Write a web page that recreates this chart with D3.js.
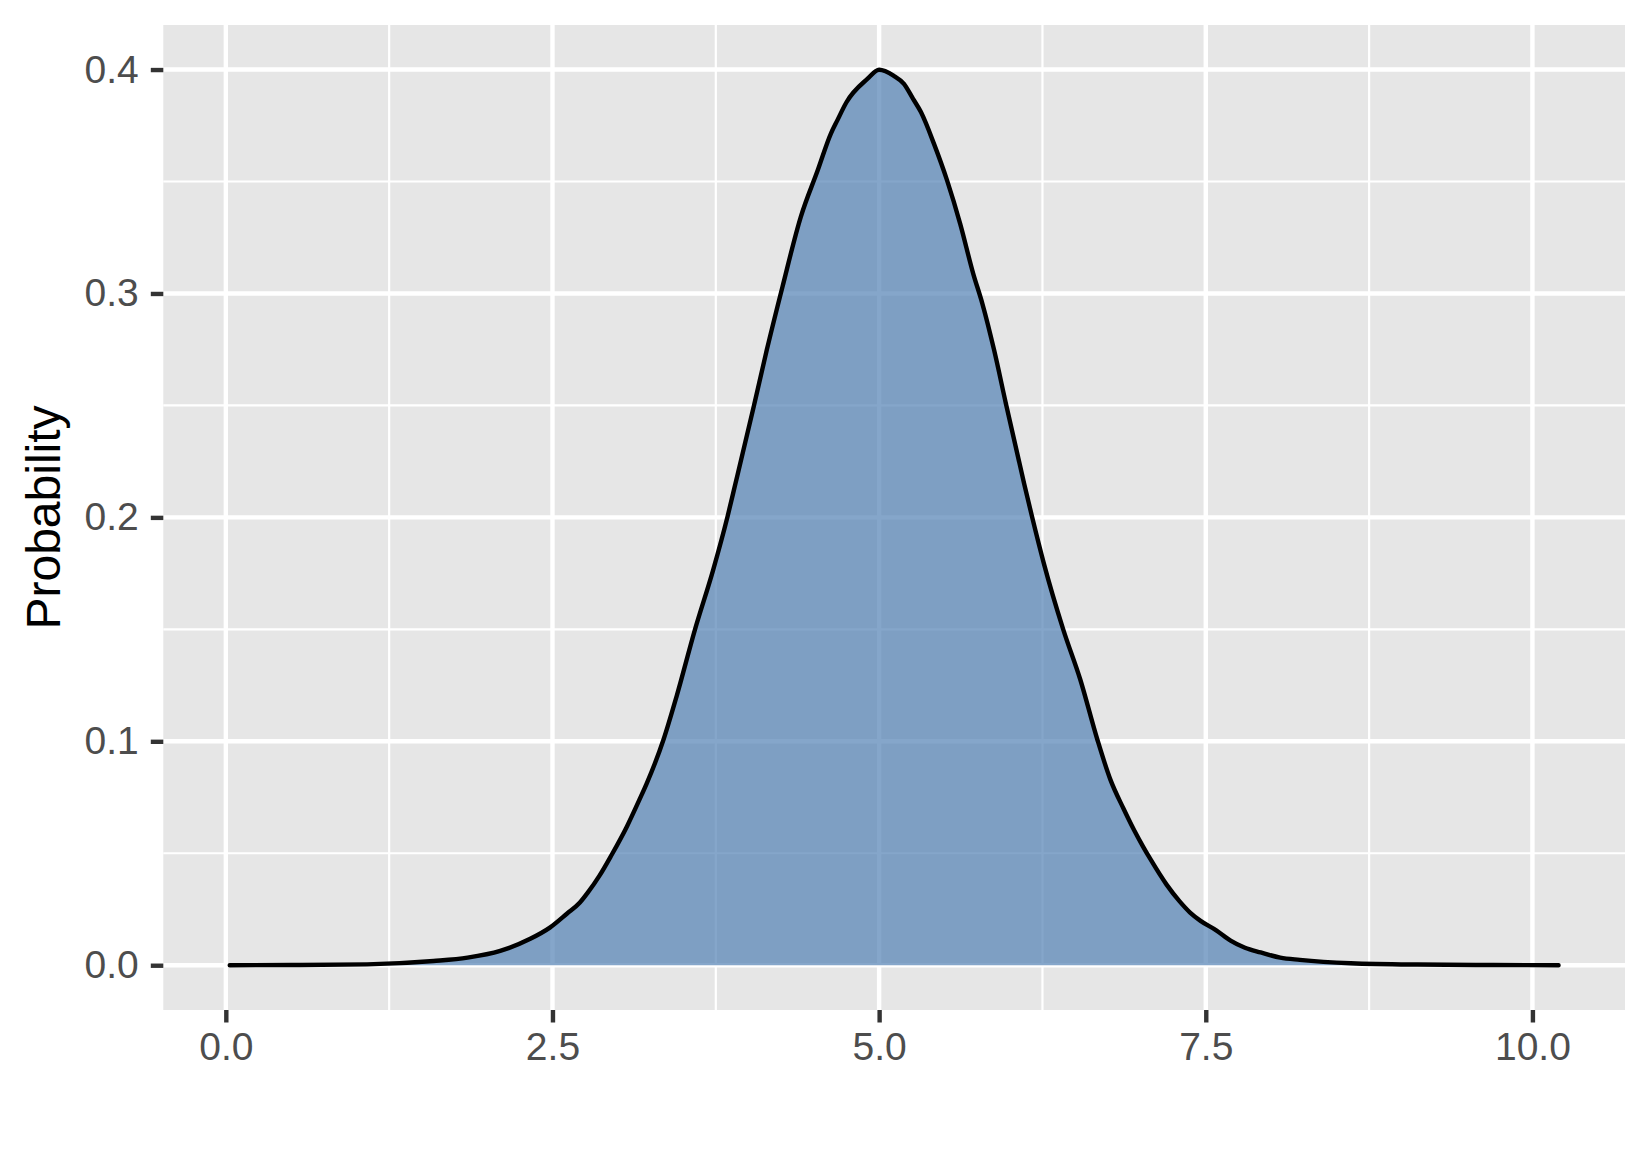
<!DOCTYPE html>
<html>
<head>
<meta charset="utf-8">
<script src="https://cdn.jsdelivr.net/npm/d3@7"></script>
<style>
  html, body { margin: 0; padding: 0; background: #ffffff; }
  svg { display: block; }
  text { font-family: "Liberation Sans", Arial, Helvetica, sans-serif; }
</style>
</head>
<body>
<svg id="chart" width="1650" height="1155"></svg>
<script>
// ---- data ----
const densityX = [0.03, 0.5, 1.08, 1.59, 1.85, 2.10, 2.33, 2.48, 2.61, 2.71, 2.77, 2.86, 2.95, 3.07, 3.17, 3.22, 3.35, 3.45, 3.59, 3.73, 3.84, 3.90, 4.04, 4.14, 4.26, 4.40, 4.53, 4.63, 4.68, 4.75, 4.91, 5.00, 5.11, 5.19, 5.26, 5.32, 5.42, 5.52, 5.62, 5.72, 5.79, 5.88, 5.97, 6.11, 6.17, 6.26, 6.41, 6.54, 6.67, 6.77, 6.87, 6.95, 7.02, 7.08, 7.20, 7.30, 7.38, 7.46, 7.58, 7.69, 7.80, 7.92, 8.07, 8.22, 8.61, 9.12, 9.70, 10.20];
const densityY = [0.0000, 0.0001, 0.0004, 0.0019, 0.0034, 0.0064, 0.0118, 0.0168, 0.0230, 0.0280, 0.0324, 0.0400, 0.0490, 0.0620, 0.0745, 0.0810, 0.1008, 0.1201, 0.1498, 0.1766, 0.2004, 0.2150, 0.2494, 0.2747, 0.3029, 0.3341, 0.3550, 0.3713, 0.3773, 0.3854, 0.3958, 0.3999, 0.3973, 0.3936, 0.3869, 0.3810, 0.3668, 0.3505, 0.3312, 0.3089, 0.2955, 0.2747, 0.2509, 0.2150, 0.2004, 0.1796, 0.1498, 0.1275, 0.1008, 0.0829, 0.0700, 0.0605, 0.0530, 0.0470, 0.0360, 0.0285, 0.0235, 0.0198, 0.0156, 0.0110, 0.0078, 0.0057, 0.0034, 0.0024, 0.0009, 0.0003, 0.0001, 0.0000];
const xTicks = [0, 2.5, 5, 7.5, 10];
const xTickLabels = ["0.0", "2.5", "5.0", "7.5", "10.0"];
const xMinor = [1.25, 3.75, 6.25, 8.75];
const yTicks = [0, 0.1, 0.2, 0.3, 0.4];
const yTickLabels = ["0.0", "0.1", "0.2", "0.3", "0.4"];
const yMinor = [0.05, 0.15, 0.25, 0.35];
const yTitle = "Probability";

// ---- layout ----
const W = 1650, H = 1155;
const panel = { left: 163.3, right: 1625, top: 25, bottom: 1010 };

const data = densityX.map((x, i) => ({ x: x, y: densityY[i] }));
const xr = d3.extent(densityX);
const xpad = (xr[1] - xr[0]) * 0.05;
const ymax = d3.max(densityY);
const ypad = ymax * 0.05;

const x = d3.scaleLinear().domain([xr[0] - xpad, xr[1] + xpad]).range([panel.left, panel.right]);
const y = d3.scaleLinear().domain([0 - ypad, ymax + ypad]).range([panel.bottom, panel.top]);

const svg = d3.select("#chart");

// panel background
svg.append("rect")
  .attr("x", panel.left).attr("y", panel.top)
  .attr("width", panel.right - panel.left).attr("height", panel.bottom - panel.top)
  .attr("fill", "#E6E6E6");

const grid = svg.append("g");
// minor grid
grid.selectAll(".xminor").data(xMinor).join("line")
  .attr("x1", d => x(d)).attr("x2", d => x(d))
  .attr("y1", panel.top).attr("y2", panel.bottom)
  .attr("stroke", "#ffffff").attr("stroke-width", 2.2);
grid.selectAll(".yminor").data(yMinor).join("line")
  .attr("y1", d => y(d)).attr("y2", d => y(d))
  .attr("x1", panel.left).attr("x2", panel.right)
  .attr("stroke", "#ffffff").attr("stroke-width", 2.2);
// major grid
grid.selectAll(".xmajor").data(xTicks).join("line")
  .attr("x1", d => x(d)).attr("x2", d => x(d))
  .attr("y1", panel.top).attr("y2", panel.bottom)
  .attr("stroke", "#ffffff").attr("stroke-width", 4.4);
grid.selectAll(".ymajor").data(yTicks).join("line")
  .attr("y1", d => y(d)).attr("y2", d => y(d))
  .attr("x1", panel.left).attr("x2", panel.right)
  .attr("stroke", "#ffffff").attr("stroke-width", 4.4);

// density area
const area = d3.area()
  .x(d => x(d.x)).y0(y(0)).y1(d => y(d.y))
  .curve(d3.curveMonotoneX);
svg.append("path").datum(data)
  .attr("d", area)
  .attr("fill", "#5180B4").attr("fill-opacity", 0.7);

const line = d3.line()
  .x(d => x(d.x)).y(d => y(d.y))
  .curve(d3.curveMonotoneX);
svg.append("path").datum(data)
  .attr("d", line)
  .attr("fill", "none").attr("stroke", "#000000")
  .attr("stroke-width", 4.4).attr("stroke-linejoin", "round").attr("stroke-linecap", "round");

// x axis
const xAxis = d3.axisBottom(x).tickValues(xTicks)
  .tickFormat((d, i) => xTickLabels[i]).tickSize(12.5).tickPadding(10);
const gx = svg.append("g").attr("transform", `translate(0,${panel.bottom})`).call(xAxis);
gx.select(".domain").remove();
gx.selectAll(".tick line").attr("stroke", "#333333").attr("stroke-width", 4.4);
gx.selectAll(".tick text").attr("fill", "#4D4D4D").attr("font-size", 39)
  .attr("font-family", "Liberation Sans, Arial, Helvetica, sans-serif");

// y axis
const yAxis = d3.axisLeft(y).tickValues(yTicks)
  .tickFormat((d, i) => yTickLabels[i]).tickSize(12.5).tickPadding(12);
const gy = svg.append("g").attr("transform", `translate(${panel.left},0)`).call(yAxis);
gy.select(".domain").remove();
gy.selectAll(".tick line").attr("stroke", "#333333").attr("stroke-width", 4.4);
gy.selectAll(".tick text").attr("fill", "#4D4D4D").attr("font-size", 39)
  .attr("font-family", "Liberation Sans, Arial, Helvetica, sans-serif");

// y title
svg.append("text")
  .attr("transform", `translate(60,${(panel.top + panel.bottom) / 2}) rotate(-90)`)
  .attr("text-anchor", "middle")
  .attr("font-size", 48)
  .attr("fill", "#000000")
  .text(yTitle);
</script>
</body>
</html>
